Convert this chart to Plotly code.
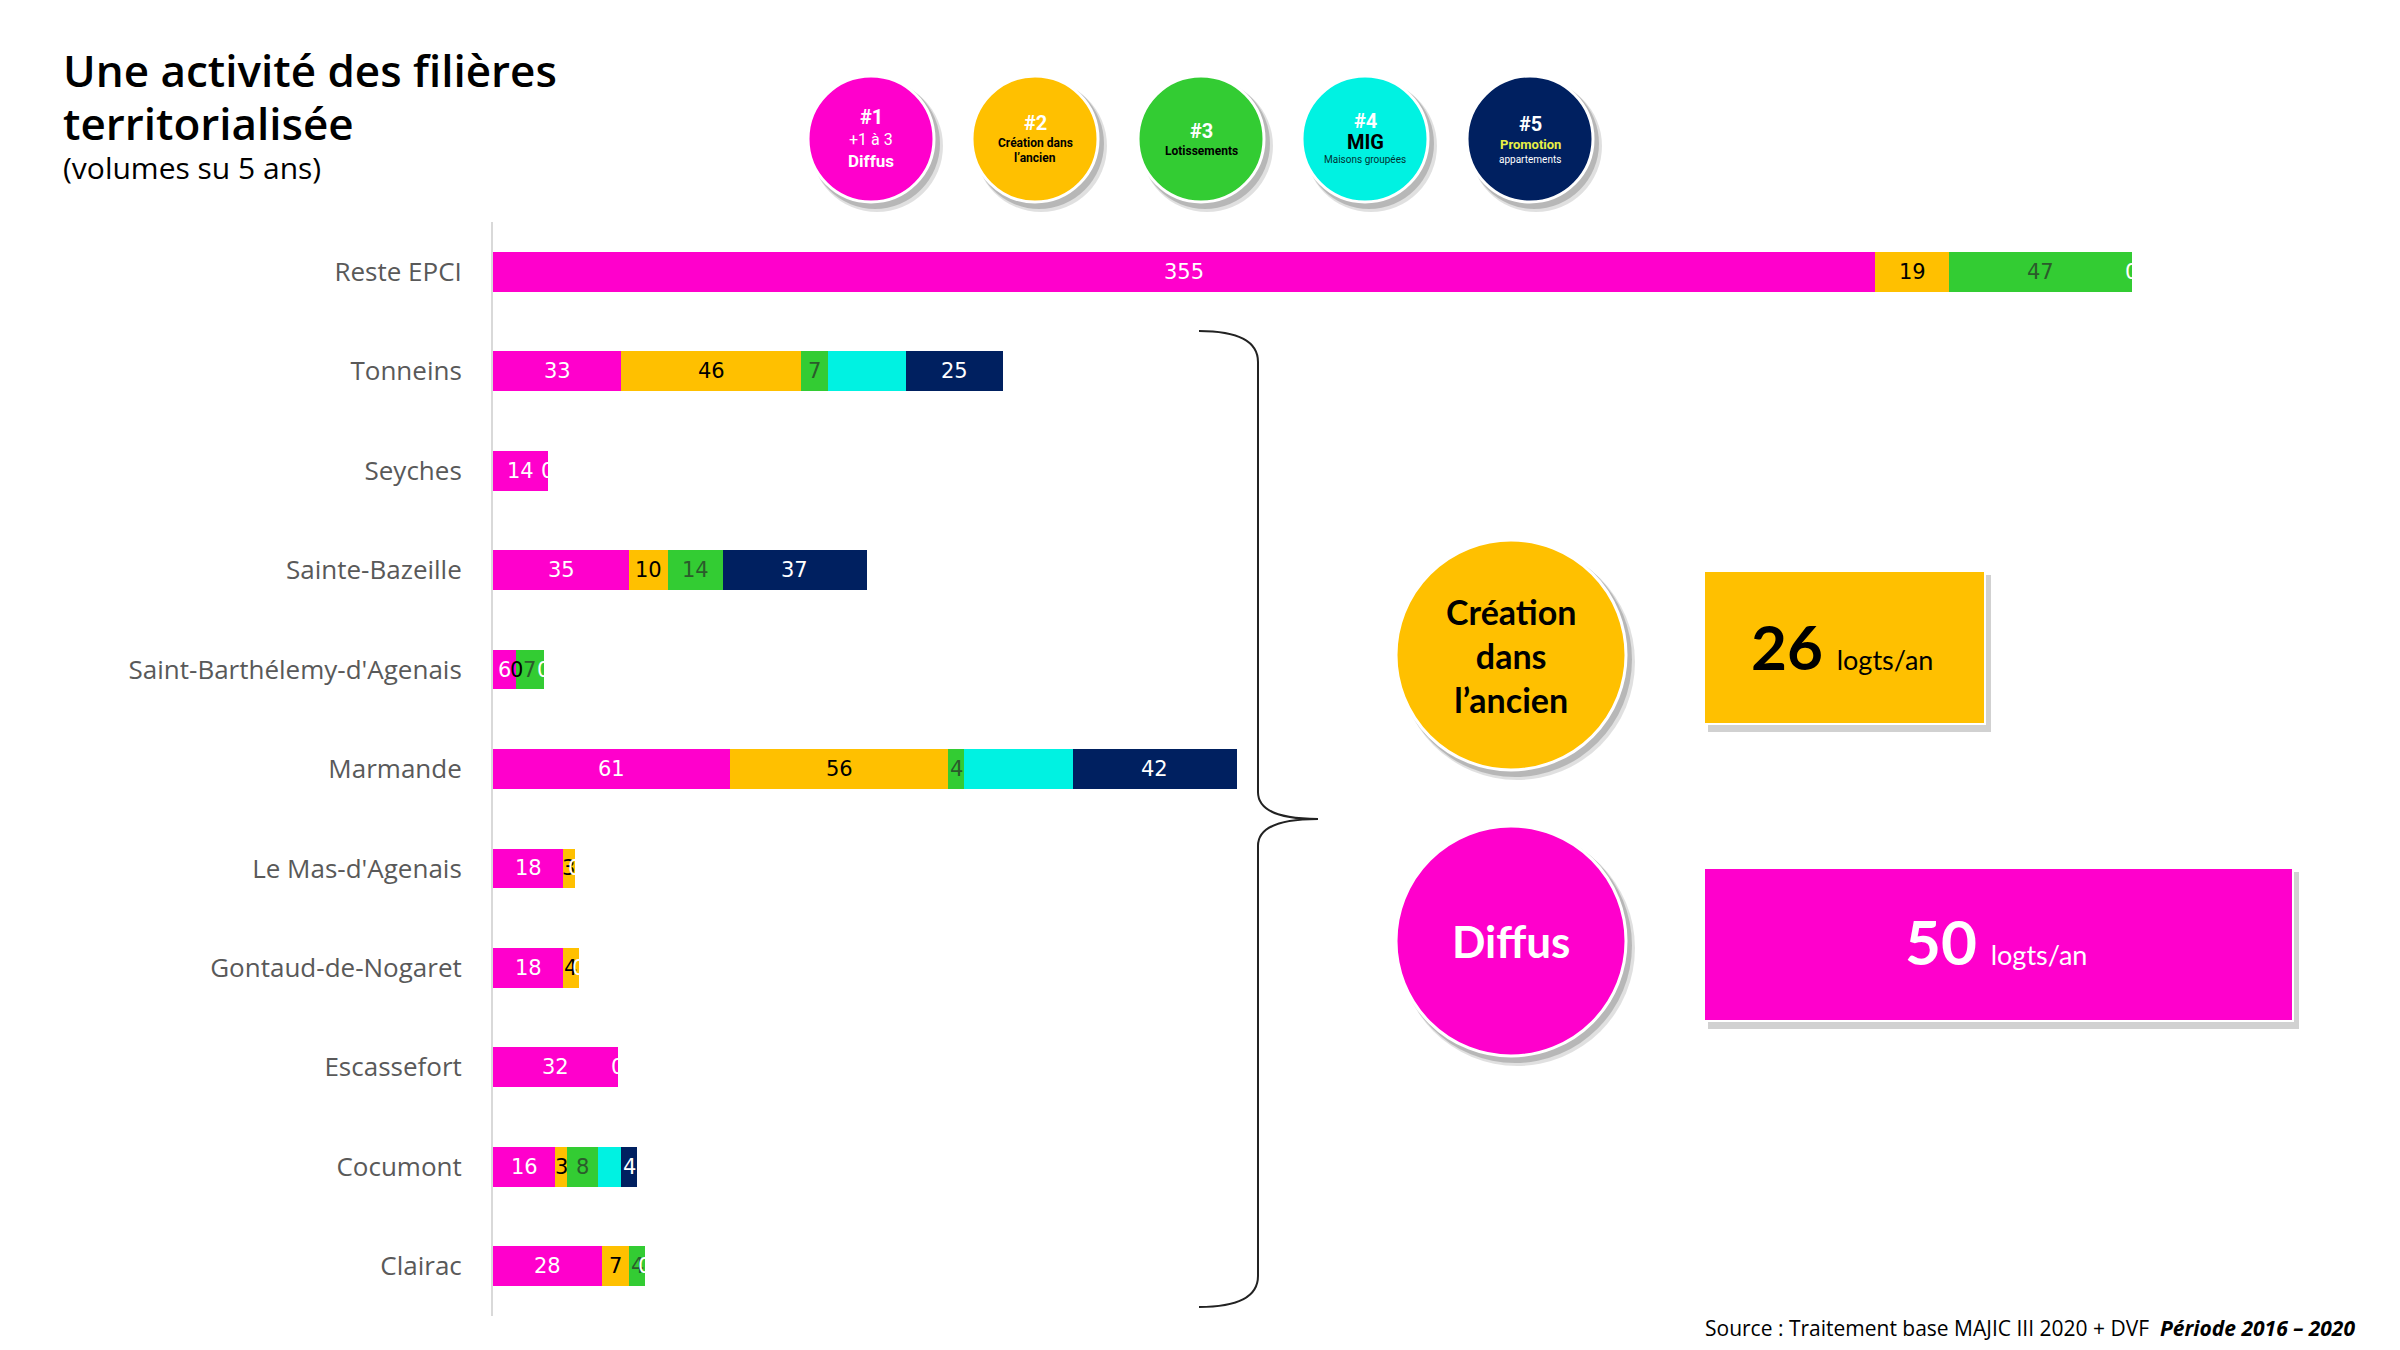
import plotly.graph_objects as go

# ---------------- data ----------------
categories = ["Reste EPCI", "Tonneins", "Seyches", "Sainte-Bazeille",
              "Saint-Barthélemy-d'Agenais", "Marmande", "Le Mas-d'Agenais",
              "Gontaud-de-Nogaret", "Escassefort", "Cocumont", "Clairac"]
diffus       = [355, 33, 14, 35, 6, 61, 18, 18, 32, 16, 28]
creation     = [19, 46, None, 10, 0, 56, 3, 4, None, 3, 7]
lotissements = [47, 7, None, 14, 7, 4, None, None, None, 8, 4]
mig          = [None, 20, None, None, None, 28, None, None, None, 6, None]
promotion    = [0, 25, 0, 37, 0, 42, 0, 0, 0, 4, 0]

series_names = ["#1 Diffus", "#2 Création dans l'ancien", "#3 Lotissements",
                "#4 MIG", "#5 Promotion"]
series_vals = [diffus, creation, lotissements, mig, promotion]
series_colors = ["#FF00CC", "#FFC000", "#33CC33", "#00F2E2", "#002060"]
label_colors = ["white", "black", "#2b5b2b", "#00F2E2", "white"]

kpi_values = [26, 50]
kpi_labels = ["Création<br>dans<br>l’ancien", "Diffus"]

# ---------------- geometry helpers ----------------
W, H = 2400, 1350
ML, MR, MT, MB = 493, 100, 222, 34
PW, PH = W - ML - MR, H - MT - MB


def px(x):
    return (x - ML) / PW


def py(y):
    return (H - MB - y) / PH


fig = go.Figure()

for name, vals, col in zip(series_names, series_vals, series_colors):
    fig.add_trace(go.Bar(
        y=categories, x=[v if v is not None else 0 for v in vals],
        orientation="h", name=name, marker=dict(color=col, line=dict(width=0)),
        width=0.4, hoverinfo="x+y+name"))

annotations = []
# bar value labels (centered on segments; zeros sit at the segment boundary)
cum = [0.0] * len(categories)
for vals, lc in zip(series_vals, label_colors):
    for i, v in enumerate(vals):
        if v is None:
            continue
        annotations.append(dict(
            x=cum[i] + v / 2, y=categories[i], xref="x", yref="y",
            text=str(v), showarrow=False,
            font=dict(family="DejaVu Sans", size=21, color=lc)))
        cum[i] += v

shapes = []


def circle(cx, cy, r, color, shadow=True):
    if shadow:
        shapes.append(dict(type="circle", xref="paper", yref="paper",
                           x0=px(cx - r + 3), x1=px(cx + r + 9),
                           y0=py(cy + r + 10), y1=py(cy - r + 4),
                           fillcolor="rgba(0,0,0,0.12)", line=dict(width=0)))
        shapes.append(dict(type="circle", xref="paper", yref="paper",
                           x0=px(cx - r + 2), x1=px(cx + r + 6),
                           y0=py(cy + r + 7), y1=py(cy - r + 2),
                           fillcolor="rgba(0,0,0,0.18)", line=dict(width=0)))
    shapes.append(dict(type="circle", xref="paper", yref="paper",
                       x0=px(cx - r), x1=px(cx + r),
                       y0=py(cy + r), y1=py(cy - r),
                       fillcolor=color, line=dict(color="white", width=3)))


def rect(x0, y0, x1, y1, color):
    shapes.append(dict(type="rect", xref="paper", yref="paper",
                       x0=px(x0 + 4), x1=px(x1 + 6), y0=py(y1 + 8), y1=py(y0 + 4),
                       fillcolor="rgba(0,0,0,0.18)", line=dict(width=0)))
    shapes.append(dict(type="rect", xref="paper", yref="paper",
                       x0=px(x0), x1=px(x1), y0=py(y1), y1=py(y0),
                       fillcolor=color, line=dict(color="white", width=2)))


def text(x, y, t, size, color="black", family="Lato", xanchor="center",
         yanchor="middle", align="center", weight=None):
    f = dict(family=family, size=size, color=color)
    if weight:
        f["weight"] = weight
    annotations.append(dict(x=px(x), y=py(y), xref="paper", yref="paper",
                            text=t, showarrow=False, xanchor=xanchor,
                            yanchor=yanchor, align=align, font=f))


# top legend circles
cxs = [871, 1035, 1201, 1365, 1530]
for cx, col in zip(cxs, series_colors):
    circle(cx, 139, 63, col)

text(871, 117, "<b>#1</b>", 20, "white", "Roboto")
text(871, 139, "+1 à 3", 16, "white", "Roboto")
text(871, 161, "<b>Diffus</b>", 17, "white", "Roboto")

text(1035, 123, "<b>#2</b>", 20, "white", "Roboto")
text(1035, 143, "<b>Création dans</b>", 12, "black", "Roboto")
text(1035, 158, "<b>l’ancien</b>", 12, "black", "Roboto")

text(1201, 131, "<b>#3</b>", 20, "white", "Roboto")
text(1201, 151, "<b>Lotissements</b>", 12, "black", "Roboto")

text(1365, 121, "<b>#4</b>", 20, "white", "Roboto")
text(1365, 142, "<b>MIG</b>", 20, "black", "Roboto")
text(1365, 159, "Maisons groupées", 10, "#003333", "Roboto")

text(1530, 124, "<b>#5</b>", 20, "white", "Roboto")
text(1530, 145, "<b>Promotion</b>", 13, "#E8F044", "Roboto")
text(1530, 159, "appartements", 10, "white", "Roboto")

# right panel
circle(1511, 655, 115, series_colors[1])
circle(1511, 941, 115, series_colors[0])
text(1511, 655, "<b>" + kpi_labels[0] + "</b>", 34, "black", "Lato")
text(1511, 941, "<b>" + kpi_labels[1] + "</b>", 44, "white", "Lato")

rect(1704, 571, 1985, 724, series_colors[1])
rect(1704, 868, 2293, 1021, series_colors[0])
text(1842, 646, "<b><span style='font-size:62px'>%d</span></b>  logts/an" % kpi_values[0],
     27, "black", "Lato")
text(1996, 941, "<b><span style='font-size:62px'>%d</span></b>  logts/an" % kpi_values[1],
     27, "white", "Lato")

# curly bracket


def P(x, y):
    return "%.5f,%.5f" % (px(x), py(y))


path = ("M " + P(1199, 331) + " Q " + P(1258, 331) + " " + P(1258, 362) +
        " L " + P(1258, 792) + " Q " + P(1258, 819) + " " + P(1318, 819) +
        " Q " + P(1258, 819) + " " + P(1258, 846) +
        " L " + P(1258, 1276) + " Q " + P(1258, 1307) + " " + P(1199, 1307))
shapes.append(dict(type="path", xref="paper", yref="paper", path=path,
                   line=dict(color="#222222", width=2)))

# titles
text(61, 70, "Une activité des filières", 44, "black", "Open Sans", xanchor="left", weight=600)
text(61, 123, "territorialisée", 44, "black", "Open Sans", xanchor="left", weight=600)
text(61, 168, "(volumes su 5 ans)", 30, "black", "Open Sans", xanchor="left")

text(2357, 1328, "Source : Traitement base MAJIC III 2020 + DVF  <b><i>Période 2016 – 2020</i></b>",
     21, "black", "Open Sans", xanchor="right")

fig.update_layout(
    width=W, height=H, barmode="stack", showlegend=False,
    margin=dict(l=ML, r=MR, t=MT, b=MB),
    paper_bgcolor="white", plot_bgcolor="white",
    xaxis=dict(range=[0, PW / 3.893], visible=False, showgrid=False, zeroline=False),
    yaxis=dict(type="category", categoryorder="array", categoryarray=categories,
               range=[len(categories) - 0.5, -0.5], showgrid=False, zeroline=False,
               showline=True, linecolor="#d9d9d9", linewidth=2,
               ticks="outside", ticklen=24, tickcolor="rgba(0,0,0,0)",
               tickfont=dict(family="Open Sans", size=26, color="#595959")),
    annotations=annotations, shapes=shapes,
)

fig.write_html("out.html")
